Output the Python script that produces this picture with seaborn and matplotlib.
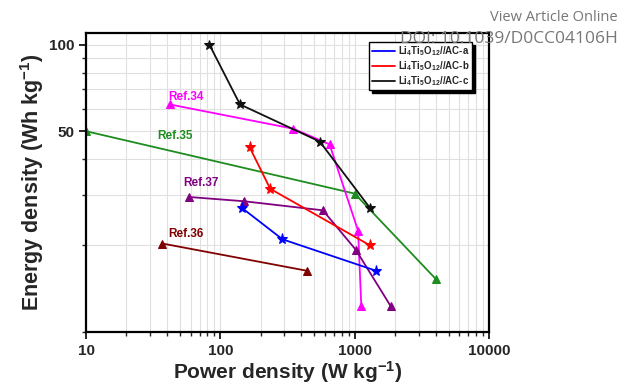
import matplotlib.pyplot as plt
import matplotlib.ticker as mticker
import numpy as np
import pandas as pd
import seaborn as sns

# ---------------------------------------------------------------------------
# Data (power density W/kg, energy density Wh/kg)
# ---------------------------------------------------------------------------
ac_a_power = [145, 290, 1450]
ac_a_energy = [27.0, 21.0, 16.3]

ac_b_power = [165, 235, 1300]
ac_b_energy = [44.0, 31.5, 20.0]

ac_c_power = [83, 140, 550, 1300]
ac_c_energy = [100, 62, 46, 27]

ref34_power = [42, 350, 650, 1060, 1120]
ref34_energy = [62, 51, 45, 22.5, 12.3]

ref35_power = [10, 1000, 4000]
ref35_energy = [50, 30.3, 15.3]

ref36_power = [37, 445]
ref36_energy = [20.3, 16.3]

ref37_power = [58, 150, 580, 1020, 1850]
ref37_energy = [29.5, 28.5, 26.5, 19.3, 12.3]

legend_labels = [r"Li$_4$Ti$_5$O$_{12}$//AC-a",
                 r"Li$_4$Ti$_5$O$_{12}$//AC-b",
                 r"Li$_4$Ti$_5$O$_{12}$//AC-c"]

sns.set_style("ticks")
plt.rcParams["font.family"] = ["Liberation Sans", "DejaVu Sans"]
plt.rcParams["mathtext.fontset"] = "custom"
plt.rcParams["mathtext.rm"] = "Liberation Sans:bold"
plt.rcParams["mathtext.it"] = "Liberation Sans:bold"
plt.rcParams["mathtext.bf"] = "Liberation Sans:bold"

fig = plt.figure(figsize=(6.19, 3.88), dpi=100)
ax = fig.add_axes([0.139, 0.145, 0.651, 0.77])


def draw(power, energy, color, marker, ms):
    df = pd.DataFrame({"P": power, "E": energy})
    sns.lineplot(data=df, x="P", y="E", sort=False, color=color, marker=marker,
                 markersize=ms, markeredgecolor=color, linewidth=1.3,
                 legend=False, ax=ax)


# comparison references (triangles)
draw(ref35_power, ref35_energy, "#1e8c1e", "^", 6)
draw(ref34_power, ref34_energy, "#ff00ff", "^", 6)
draw(ref37_power, ref37_energy, "#800080", "^", 6)
draw(ref36_power, ref36_energy, "#800000", "^", 6)
# this work (stars)
draw(ac_c_power, ac_c_energy, "#111111", "*", 7)
draw(ac_b_power, ac_b_energy, "#ff0000", "*", 8)
draw(ac_a_power, ac_a_energy, "#0000ff", "*", 8)

ax.set_xscale("log")
ax.set_yscale("log")
ax.set_xlim(10, 10000)
ax.set_ylim(10, 110)

ax.xaxis.set_major_locator(mticker.FixedLocator([10, 100, 1000, 10000]))
ax.xaxis.set_major_formatter(mticker.FixedFormatter(["10", "100", "1000", "10000"]))
ax.xaxis.set_minor_locator(mticker.LogLocator(base=10, subs=np.arange(2, 10)))
ax.xaxis.set_minor_formatter(mticker.NullFormatter())
ax.yaxis.set_major_locator(mticker.FixedLocator([50, 100]))
ax.yaxis.set_major_formatter(mticker.FixedFormatter(["50", "100"]))
ax.yaxis.set_minor_locator(mticker.FixedLocator([10, 20, 30, 40, 60, 70, 80, 90]))
ax.yaxis.set_minor_formatter(mticker.NullFormatter())

ax.grid(True, which="both", color="#e0e0e0", linewidth=0.8)
ax.set_axisbelow(True)
for sp in ax.spines.values():
    sp.set_linewidth(1.6)
    sp.set_color("black")
ax.tick_params(which="major", direction="out", length=5, width=1.4, labelsize=11)
ax.tick_params(which="minor", direction="out", length=3, width=1.0)
for lbl in ax.get_xticklabels() + ax.get_yticklabels():
    lbl.set_fontweight("bold")

ax.set_xlabel(r"Power density (W kg$^{-1}$)", fontsize=15, fontweight="bold", labelpad=1)
ax.set_ylabel(r"Energy density (Wh kg$^{-1}$)", fontsize=15.5, fontweight="bold", labelpad=2)

# reference labels
ax.text(41, 66, "Ref.34", color="#ff00ff", fontsize=8.5, fontweight="bold", va="center")
ax.text(34, 48, "Ref.35", color="#1e8c1e", fontsize=8.5, fontweight="bold", va="center")
ax.text(53, 33, "Ref.37", color="#800080", fontsize=8.5, fontweight="bold", va="center")
ax.text(41, 22, "Ref.36", color="#800000", fontsize=8.5, fontweight="bold", va="center")

handles = [plt.Line2D([], [], color=c, linewidth=1.3)
           for c in ["#0000ff", "#ff0000", "#111111"]]
leg = ax.legend(handles, legend_labels, loc="upper right", bbox_to_anchor=(0.958, 0.97),
                borderaxespad=0, fontsize=7, frameon=True, fancybox=False,
                shadow={"color": "black", "alpha": 1.0, "shade": 0.0},
                handlelength=2.4, handletextpad=0.3, borderpad=0.25, labelspacing=0.1)
leg.get_frame().set_edgecolor("black")
leg.get_frame().set_linewidth(1.0)
for t in leg.get_texts():
    t.set_fontweight("bold")

# publisher watermark
fig.text(0.998, 0.955, "View Article Online", ha="right", va="center",
         color="#777777", fontsize=10.5, family=["Open Sans", "DejaVu Sans"])
fig.text(0.998, 0.9, "DOI: 10.1039/D0CC04106H", ha="right", va="center",
         color="#777777", fontsize=12.5, family=["Open Sans", "DejaVu Sans"])

fig.savefig("out.png", dpi=100)
